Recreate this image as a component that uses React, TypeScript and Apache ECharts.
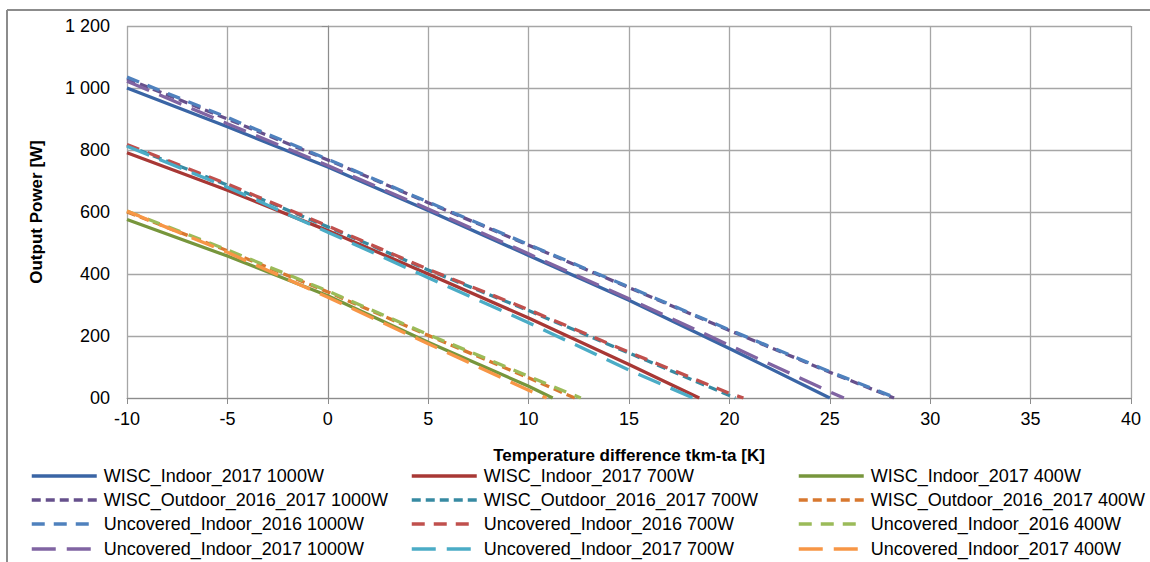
import React, { useEffect, useRef } from "react";
import * as echarts from "echarts";

// x ticks / y ticks
const xTicks = [-10, -5, 0, 5, 10, 15, 20, 25, 30, 35, 40];
const yTicks = [0, 200, 400, 600, 800, 1000, 1200];

// 1000W series
const wiscIndoor1000 = [[-10, 1000], [-5, 875], [0, 745], [5, 605], [10, 460], [15, 315], [20, 160], [25, 0]];
const wiscOutdoor1000 = [[-10, 1030], [-5, 900], [0, 768], [5, 630], [10, 493], [15, 356], [20, 218], [25, 83], [28.2, 0]];
const uncovered2016_1000 = [[-10, 1035], [-5, 905], [0, 770], [5, 632], [10, 495], [15, 358], [20, 220], [25, 85], [28.3, 0]];
const uncovered2017_1000 = [[-10, 1022], [-5, 885], [0, 750], [5, 610], [10, 465], [15, 320], [20, 170], [25, 20], [25.7, 0]];

// 700W series
const wiscIndoor700 = [[-10, 791], [-5, 670], [0, 540], [5, 400], [10, 258], [15, 108], [18.5, 0]];
const wiscOutdoor700 = [[-10, 815], [-5, 687], [0, 552], [5, 413], [10, 282], [15, 145], [20, 8], [20.3, 0]];
const uncovered2016_700 = [[-10, 818], [-5, 690], [0, 555], [5, 415], [10, 285], [15, 148], [20, 15], [20.7, 0]];
const uncovered2017_700 = [[-10, 812], [-5, 680], [0, 535], [5, 388], [10, 243], [15, 90], [18.2, 0]];

// 400W series
const wiscIndoor400 = [[-10, 576], [-5, 458], [0, 330], [5, 180], [10, 38], [11.2, 0]];
const wiscOutdoor400 = [[-10, 600], [-5, 475], [0, 342], [5, 202], [10, 65], [12.3, 0]];
const uncovered2016_400 = [[-10, 603], [-5, 478], [0, 345], [5, 205], [10, 70], [12.6, 0]];
const uncovered2017_400 = [[-10, 603], [-5, 470], [0, 325], [5, 175], [10, 25], [10.9, 0]];

const names1000 = ["WISC_Indoor_2017 1000W", "WISC_Outdoor_2016_2017 1000W", "Uncovered_Indoor_2016 1000W", "Uncovered_Indoor_2017 1000W"];
const names700 = ["WISC_Indoor_2017 700W", "WISC_Outdoor_2016_2017 700W", "Uncovered_Indoor_2016 700W", "Uncovered_Indoor_2017 700W"];
const names400 = ["WISC_Indoor_2017 400W", "WISC_Outdoor_2016_2017 400W", "Uncovered_Indoor_2016 400W", "Uncovered_Indoor_2017 400W"];

const FONT = "'Liberation Sans', Arial, sans-serif";

const SOLID: any = "solid";
const SHORT: any = [9, 5];
const MEDIUM: any = [13, 9];
const LONG: any = [24, 11];

export default function App() {
  const ref = useRef<HTMLDivElement>(null);
  useEffect(() => {
    if (!ref.current) return;
    const chart = echarts.init(ref.current, undefined, { renderer: "svg" });

    const mk = (name: string, data: number[][], color: string, type: any) => ({
      name,
      type: "line",
      data,
      showSymbol: false,
      symbol: "none",
      symbolSize: 0,
      lineStyle: { color, width: 3.3, type, cap: "butt" },
      itemStyle: { color },
      emphasis: { disabled: true },
    });

    const series = [
      mk(names1000[0], wiscIndoor1000, "#3A65A5", SOLID),
      mk(names700[0], wiscIndoor700, "#A83835", SOLID),
      mk(names400[0], wiscIndoor400, "#77963C", SOLID),
      mk(names1000[1], wiscOutdoor1000, "#66508C", SHORT),
      mk(names700[1], wiscOutdoor700, "#378AA2", SHORT),
      mk(names400[1], wiscOutdoor400, "#D8782F", SHORT),
      mk(names1000[2], uncovered2016_1000, "#4F81BD", MEDIUM),
      mk(names700[2], uncovered2016_700, "#C0504D", MEDIUM),
      mk(names400[2], uncovered2016_400, "#9BBB59", MEDIUM),
      mk(names1000[3], uncovered2017_1000, "#8064A2", LONG),
      mk(names700[3], uncovered2017_700, "#4BACC6", LONG),
      mk(names400[3], uncovered2017_400, "#F79646", LONG),
    ];

    const colX = [30, 410, 797];
    const rowY = [476, 500, 524, 549];
    const cols = [names1000, names700, names400];
    const legends: any[] = [];
    cols.forEach((names, c) => {
      names.forEach((n, r) => {
        legends.push({
          orient: "horizontal",
          left: colX[c],
          top: rowY[r] - 9,
          padding: 0,
          itemWidth: 65,
          itemHeight: 14,
          itemGap: 0,
          selectedMode: false,
          data: [n],
          itemStyle: { opacity: 0, borderWidth: 0 },
          lineStyle: { width: 3.5 },
          textStyle: { fontFamily: FONT, fontSize: 18, color: "#000", lineHeight: 18, padding: [0, 0, 0, 2] },
        });
      });
    });

    chart.setOption({
      animation: false,
      backgroundColor: "#fff",
      textStyle: { fontFamily: FONT },
      grid: { left: 127, right: 19, top: 26, bottom: 164, containLabel: false },
      legend: legends,
      xAxis: {
        type: "value",
        min: xTicks[0],
        max: xTicks[xTicks.length - 1],
        interval: 5,
        name: "Temperature difference tkm-ta [K]",
        nameLocation: "middle",
        nameGap: 49,
        nameTextStyle: { fontFamily: FONT, fontSize: 17, fontWeight: "bold", color: "#000" },
        axisLine: { show: true, lineStyle: { color: "#8c8c8c", width: 1 } },
        axisTick: { show: true, length: 6, lineStyle: { color: "#8c8c8c" } },
        axisLabel: { fontFamily: FONT, fontSize: 18, color: "#000", margin: 12 },
        splitLine: { show: true, lineStyle: { color: "#a6a6a6", width: 1.3 } },
      },
      yAxis: {
        type: "value",
        min: yTicks[0],
        max: yTicks[yTicks.length - 1],
        interval: 200,
        name: "Output Power [W]",
        nameLocation: "middle",
        nameGap: 82,
        nameRotate: 90,
        nameTextStyle: { fontFamily: FONT, fontSize: 17, fontWeight: "bold", color: "#000" },
        axisLine: { show: true, lineStyle: { color: "#8c8c8c", width: 1 } },
        axisTick: { show: true, length: 6, lineStyle: { color: "#8c8c8c" } },
        axisLabel: {
          fontFamily: FONT,
          fontSize: 18,
          color: "#000",
          margin: 17,
          formatter: (v: number) => (v === 0 ? "00" : v >= 1000 ? `${Math.floor(v / 1000)} ${String(v % 1000).padStart(3, "0")}` : String(v)),
        },
        splitLine: { show: true, lineStyle: { color: "#a6a6a6", width: 1.3 } },
      },
      graphic: [
        { type: "line", shape: { x1: 7, y1: 10, x2: 1150, y2: 10 }, style: { stroke: "#8c8c8c", lineWidth: 2 }, silent: true },
        { type: "line", shape: { x1: 7, y1: 10, x2: 7, y2: 562 }, style: { stroke: "#8c8c8c", lineWidth: 2 }, silent: true },
      ],
      series,
    });
    return () => chart.dispose();
  }, []);
  return <div ref={ref} style={{ width: 1150, height: 562, position: "fixed", left: 0, top: 0 }} />;
}
